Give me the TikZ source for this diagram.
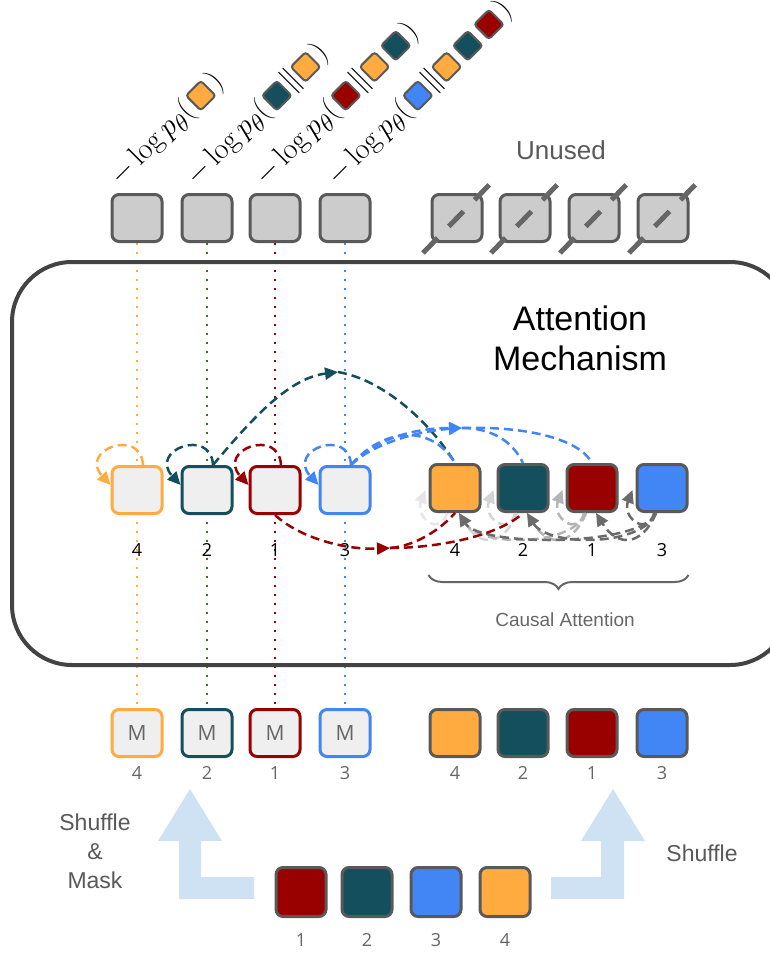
\documentclass[tikz,border=0pt]{standalone}
\usepackage[no-math]{fontspec}
\setmainfont{Liberation Sans}
\newfontfamily\numfont{Open Sans}
\usetikzlibrary{calc,arrows.meta,backgrounds,decorations.pathreplacing}

\definecolor{corange}{HTML}{FFAB40}
\definecolor{cteal}{HTML}{134F5C}
\definecolor{cred}{HTML}{990000}
\definecolor{cblue}{HTML}{4285F4}
\definecolor{cgreen}{HTML}{38761D}
\definecolor{cborder}{HTML}{595959}
\definecolor{cgray}{HTML}{CCCCCC}
\definecolor{clight}{HTML}{EFEFEF}
\definecolor{cshade}{HTML}{CFE2F3}
\definecolor{cframe}{HTML}{434343}
\definecolor{ctext}{HTML}{595959}
\definecolor{cnum}{HTML}{666666}
\definecolor{cshA}{HTML}{E6E6E6}
\definecolor{cshB}{HTML}{D4D4D4}
\definecolor{cshC}{HTML}{B4B4B4}
\definecolor{cshD}{HTML}{6B6B6B}

\begin{document}
\begin{tikzpicture}[x=1pt,y=-1pt,>={Triangle[length=13pt,width=12pt]},
  box/.style={draw=cborder,line width=3pt,rounded corners=7pt,minimum width=50pt,minimum height=47pt,inner sep=0pt},
  mini/.style={draw=cborder,line width=2pt,rounded corners=3pt,minimum size=21pt,inner sep=0pt,outer sep=4.5pt,rotate=45,anchor=west},
  lbl/.style={rotate=45,scale=1.2,inner sep=0pt,anchor=base west,font=\fontsize{24.88}{28}\selectfont},
  num/.style={font=\numfont\fontsize{18}{20}\selectfont},
  att/.style={line width=2.5pt,dash pattern=on 9pt off 5pt},
  link/.style={line width=2pt,dash pattern=on 2pt off 7pt},
  slash/.style={draw=cnum,line width=5pt,dash pattern=on 21pt off 16pt}]
\useasboundingbox (0,0) rectangle (770,953);

% model outputs
\foreach \n/\x in {4/137,2/207,1/275,3/345}
  \node[box,fill=cgray] (o\n) at (\x,218) {};
\foreach \i/\x in {1/457,2/525,3/594,4/663}{
  \node[box,fill=cgray] (u\i) at (\x,218) {};
  \draw[slash] ($(u\i)+(-34,35)$) -- ($(u\i)+(33,-34)$);
}
\node[font=\fontsize{26}{30}\selectfont,text=ctext] (unused) at (561,150) {Unused};

% loss terms
\node[lbl] (l4a) at (120,187) {$-\log p_\theta\bigl($};
\node[mini,fill=corange] (l4b) at (l4a.east) {};
\node[lbl,anchor=west] (l4c) at (l4b.east) {$\bigr)$};

\node[lbl] (l2a) at (196,187) {$-\log p_\theta\bigl($};
\node[mini,fill=cteal] (l2b) at (l2a.east) {};
\node[lbl,anchor=west,inner xsep=-2pt] (l2c) at (l2b.east) {$\|$};
\node[mini,fill=corange] (l2d) at (l2c.east) {};
\node[lbl,anchor=west] (l2e) at (l2d.east) {$\bigr)$};

\node[lbl] (l1a) at (265,187) {$-\log p_\theta\bigl($};
\node[mini,fill=cred] (l1b) at (l1a.east) {};
\node[lbl,anchor=west,inner xsep=-2pt] (l1c) at (l1b.east) {$\|$};
\node[mini,fill=corange] (l1d) at (l1c.east) {};
\node[mini,fill=cteal] (l1e) at (l1d.east) {};
\node[lbl,anchor=west] (l1f) at (l1e.east) {$\bigr)$};

\node[lbl] (l3a) at (337,187) {$-\log p_\theta\bigl($};
\node[mini,fill=cblue] (l3b) at (l3a.east) {};
\node[lbl,anchor=west,inner xsep=-2pt] (l3c) at (l3b.east) {$\|$};
\node[mini,fill=corange] (l3d) at (l3c.east) {};
\node[mini,fill=cteal] (l3e) at (l3d.east) {};
\node[mini,fill=cred] (l3f) at (l3e.east) {};
\node[lbl,anchor=west] (l3g) at (l3f.east) {$\bigr)$};

% attention block
\draw[line width=4pt,draw=cframe,rounded corners=60pt] (12,262) rectangle (790,665);
\node[font=\fontsize{34}{40}\selectfont,align=center] (mech) at (580,338) {Attention\\Mechanism};

% masked queries and content stream
\foreach \n/\x/\c in {4/137/corange,2/207/cteal,1/275/cred,3/345/cblue}{
  \node[box,draw=\c,fill=clight] (q\n) at (\x,490) {};
  \node[num] (qn\n) at (\x,550) {\n};
}
\foreach \n/\x/\c in {4/455/corange,2/523/cteal,1/592/cred,3/662/cblue}{
  \node[box,fill=\c] (c\n) at (\x,488) {};
  \node[num] (cn\n) at (\x,550) {\n};
}

% inputs
\foreach \n/\x/\c in {4/137/corange,2/207/cteal,1/275/cred,3/345/cblue}{
  \node[box,draw=\c,fill=clight,text=cnum,font=\numfont\fontsize{21}{24}\selectfont] (m\n) at (\x,733) {M};
  \node[num,text=cnum] (mn\n) at (\x,773) {\n};
}
\foreach \n/\x/\c in {4/455/corange,2/523/cteal,1/592/cred,3/662/cblue}{
  \node[box,fill=\c] (d\n) at (\x,733) {};
  \node[num,text=cnum] (dn\n) at (\x,773) {\n};
}
\foreach \n/\x/\c in {1/301/cred,2/367/cteal,3/436/cblue,4/505/corange}{
  \node[box,fill=\c,minimum height=49pt] (s\n) at (\x,892) {};
  \node[num,text=cnum] (sn\n) at (\x,940) {\n};
}

\begin{scope}[on background layer]
\foreach \n/\c in {4/corange,2/cgreen,1/cred,3/cblue}
  \draw[link,\c] (o\n) -- (m\n);
\end{scope}

% causal attention in the content stream
\foreach \n/\c in {4/cshA,2/cshB,1/cshC,3/cshD}
  \draw[att,\c,->] ([xshift=-8pt]c\n.south) .. controls ($(c\n.south)+(-14,24)$) and ($(c\n.west)+(-14,30)$) .. ([xshift=-3pt,yshift=-2pt]c\n.west);
\foreach \a/\b/\c in {2/4/cshB,1/4/cshC,1/2/cshC,3/4/cshD,3/2/cshD,3/1/cshD}
  \draw[att,\c,->] ([xshift=-6pt]c\a.south) .. controls ($(c\a.south)+(-20,34)$) and ($(c\b.south)+(25,34)$) .. ([xshift=4pt]c\b.south);

\draw[decorate,decoration={brace,mirror,amplitude=14pt},line width=2pt,draw=cnum]
  ([yshift=-62pt]c4.south west) -- ([yshift=-62pt]c3.south east);
\node[font=\fontsize{19}{22}\selectfont,text=cnum] (causal) at (565,620) {Causal Attention};

% masked queries attend to themselves and to earlier content
\foreach \n/\c in {4/corange,2/cteal,1/cred,3/cblue}
  \draw[att,\c,->] ([xshift=6pt]q\n.north) .. controls ($(q\n.north)+(4,-38)$) and ($(q\n.west)+(-32,-40)$) .. ([yshift=5pt]q\n.west);

\coordinate (tpk) at (338,372);
\draw[att,cteal,->] ([xshift=6pt]q2.north) .. controls (255,415) and (290,378) .. (tpk);
\draw[att,cteal] (tpk) .. controls (385,380) and (432,425) .. (c4.north);

\coordinate (bpk) at (462,428);
\draw[att,cblue] ([xshift=6pt]q3.north) .. controls (385,426) and (432,425) .. (c4.north);
\draw[att,cblue,->] ([xshift=6pt]q3.north) .. controls (378,436) and (420,428) .. (bpk);
\draw[att,cblue,->] ([xshift=6pt]q3.north) .. controls (372,444) and (418,431) .. (bpk);
\draw[att,cblue] (bpk) .. controls (490,428) and (512,440) .. (c2.north);
\draw[att,cblue] (bpk) .. controls (530,426) and (580,440) .. (c1.north);

\coordinate (rpk) at (390,548);
\draw[att,cred,->] (q1.south) .. controls (300,538) and (345,550) .. (rpk);
\draw[att,cred] (rpk) .. controls (415,546) and (440,530) .. (c4.south);
\draw[att,cred] (rpk) .. controls (440,548) and (500,535) .. (c2.south);

% shuffle arrows
\fill[cshade] (254,877) -- (201,877) -- (201,841) -- (222,841) -- (190,789) -- (158,841)
  -- (179,841) -- (179,899) -- (254,899) -- cycle;
\fill[cshade] (551,877) -- (601,877) -- (601,841) -- (581,841) -- (613,789) -- (645,841)
  -- (624,841) -- (624,899) -- (551,899) -- cycle;
\node[font=\fontsize{23}{29}\selectfont,text=ctext,align=center] (smask) at (95,851) {Shuffle\\\&\\Mask};
\node[font=\fontsize{23}{29}\selectfont,text=ctext] (shuf) at (702,853) {Shuffle};
\end{tikzpicture}
\end{document}
